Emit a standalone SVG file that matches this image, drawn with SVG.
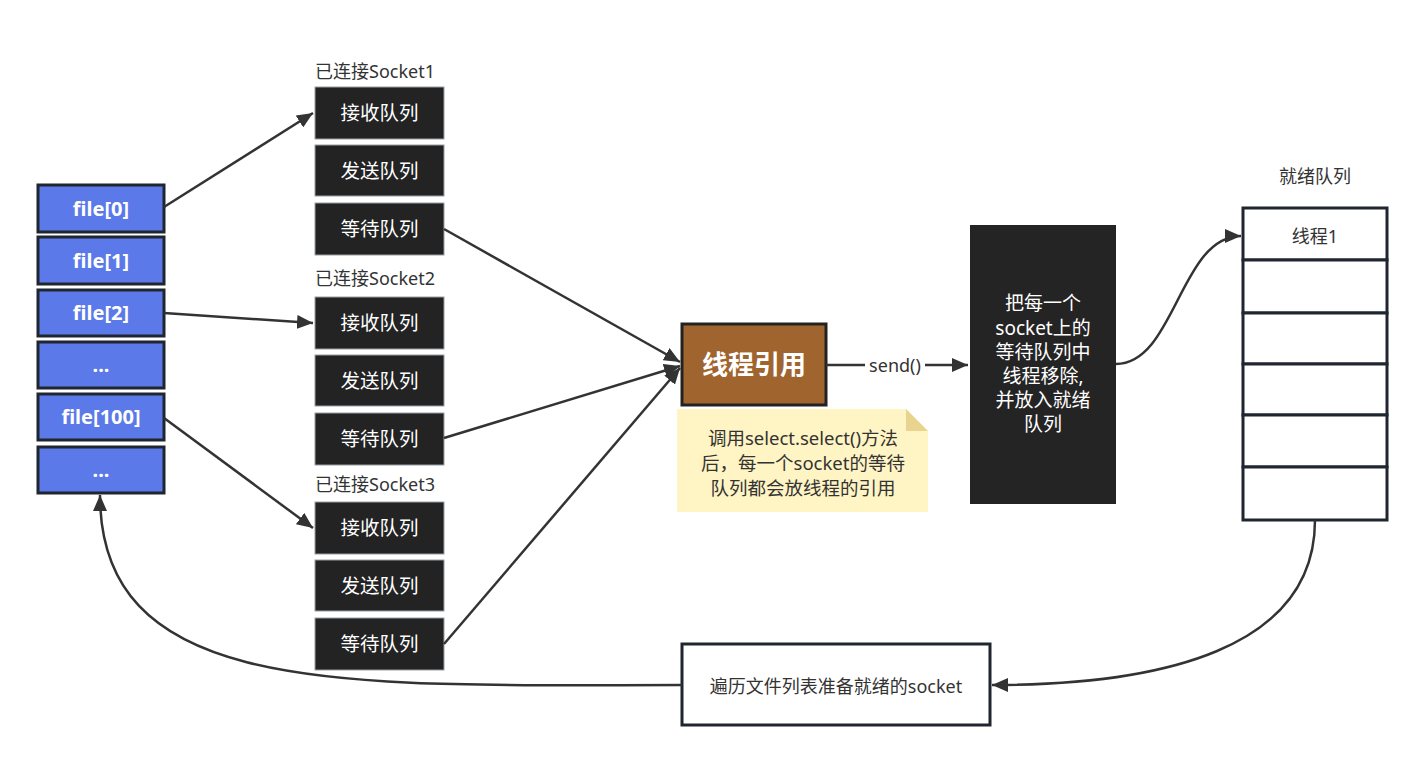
<svg xmlns="http://www.w3.org/2000/svg" width="1427" height="776" viewBox="0 0 1427 776">
<style>
text{font-family:"Noto Sans","Noto Sans CJK SC",sans-serif;}
.file rect{fill:#5b79e8;stroke:#1f2630;stroke-width:3;}
.file text{fill:#fff;font-size:20px;font-weight:bold;text-anchor:middle;}
.q rect{fill:#232323;stroke:#9aa0a6;stroke-width:1;}
.q text{fill:#fff;font-size:19.5px;text-anchor:middle;}
.lbl{fill:#333;font-size:18px;}
.edge{fill:none;stroke:#333;stroke-width:2.5;}
.dark{fill:#fff;font-size:19px;text-anchor:middle;}
.cell{fill:#fff;stroke:#1f2630;stroke-width:3;}
</style>
<defs>
<marker id="arr" markerUnits="userSpaceOnUse" markerWidth="18" markerHeight="14" refX="16" refY="7" orient="auto">
<path d="M0,0 L16,7 L0,14 Z" fill="#333"/>
</marker>
</defs>
<rect width="1427" height="776" fill="#fff"/>

<g id="files">
<g class="file" id="file0"><rect x="38" y="185" width="126" height="47"/><text x="101" y="216">file[0]</text></g>
<g class="file" id="file1"><rect x="38" y="237" width="126" height="47"/><text x="101" y="268">file[1]</text></g>
<g class="file" id="file2"><rect x="38" y="290" width="126" height="46"/><text x="101" y="320">file[2]</text></g>
<g class="file" id="fileDots1"><rect x="38" y="342" width="126" height="46"/><text x="101" y="372">...</text></g>
<g class="file" id="file100"><rect x="38" y="394" width="126" height="46"/><text x="101" y="424">file[100]</text></g>
<g class="file" id="fileDots2"><rect x="38" y="447" width="126" height="46"/><text x="101" y="477">...</text></g>
</g>

<g id="socket1">
<text class="lbl" x="315" y="78">已连接Socket1</text>
<g class="q"><rect x="315" y="87" width="129" height="52"/><text x="379.5" y="120">接收队列</text></g>
<g class="q"><rect x="315" y="145" width="129" height="51"/><text x="379.5" y="178">发送队列</text></g>
<g class="q"><rect x="315" y="203" width="129" height="52"/><text x="379.5" y="236">等待队列</text></g>
</g>
<g id="socket2">
<text class="lbl" x="315" y="285">已连接Socket2</text>
<g class="q"><rect x="315" y="297" width="129" height="52"/><text x="379.5" y="330">接收队列</text></g>
<g class="q"><rect x="315" y="355" width="129" height="51"/><text x="379.5" y="388">发送队列</text></g>
<g class="q"><rect x="315" y="413" width="129" height="52"/><text x="379.5" y="446">等待队列</text></g>
</g>
<g id="socket3">
<text class="lbl" x="315" y="491">已连接Socket3</text>
<g class="q"><rect x="315" y="502" width="129" height="52"/><text x="379.5" y="535">接收队列</text></g>
<g class="q"><rect x="315" y="560" width="129" height="51"/><text x="379.5" y="593">发送队列</text></g>
<g class="q"><rect x="315" y="618" width="129" height="52"/><text x="379.5" y="651">等待队列</text></g>
</g>

<g id="threadRef">
<rect x="682" y="324" width="144" height="81" fill="#a0642e" stroke="#222" stroke-width="3"/>
<text x="754" y="374" fill="#fff" font-size="26" font-weight="bold" text-anchor="middle">线程引用</text>
</g>

<g id="note">
<path d="M677,409 L906,409 L928,431 L928,512 L677,512 Z" fill="#fff4c3"/>
<path d="M906,409 L928,431 L906,431 Z" fill="#e8d48e"/>
<g font-size="18.5" fill="#333" text-anchor="middle">
<text x="803" y="445">调用select.select()方法</text>
<text x="803" y="470">后，每一个socket的等待</text>
<text x="803" y="495">队列都会放线程的引用</text>
</g>
</g>

<g id="moveBox">
<rect x="970" y="225" width="146" height="279" fill="#242424"/>
<text class="dark" x="1043" y="310">把每一个</text>
<text class="dark" x="1043" y="335">socket上的</text>
<text class="dark" x="1043" y="359">等待队列中</text>
<text class="dark" x="1043" y="383">线程移除,</text>
<text class="dark" x="1043" y="407">并放入就绪</text>
<text class="dark" x="1043" y="431">队列</text>
</g>

<g id="readyQueue">
<text class="lbl" x="1315" y="183" text-anchor="middle" font-size="19.5">就绪队列</text>
<rect class="cell" x="1243" y="208" width="144" height="52"/>
<rect class="cell" x="1243" y="260" width="144" height="53"/>
<rect class="cell" x="1243" y="313" width="144" height="51"/>
<rect class="cell" x="1243" y="364" width="144" height="51"/>
<rect class="cell" x="1243" y="415" width="144" height="52"/>
<rect class="cell" x="1243" y="467" width="144" height="53"/>
<text class="lbl" x="1315" y="243" text-anchor="middle" font-size="19">线程1</text>
</g>

<g id="traverse">
<rect x="682" y="644" width="308" height="81" fill="#fff" stroke="#1f2630" stroke-width="3"/>
<text class="lbl" x="836" y="693" text-anchor="middle" font-size="19.5">遍历文件列表准备就绪的socket</text>
</g>

<g id="connectors">
<path class="edge" d="M164,207 L313,113" marker-end="url(#arr)"/>
<path class="edge" d="M164,313 L313,323" marker-end="url(#arr)"/>
<path class="edge" d="M164,418 L313,528" marker-end="url(#arr)"/>
<path class="edge" d="M444,229 L680,362" marker-end="url(#arr)"/>
<path class="edge" d="M444,438 L680,366" marker-end="url(#arr)"/>
<path class="edge" d="M444,644 L680,368" marker-end="url(#arr)"/>
<path class="edge" d="M826,365 L865,365"/>
<path class="edge" d="M925,365 L968,365" marker-end="url(#arr)"/>
<text class="lbl" x="895" y="372" text-anchor="middle" font-size="19">send()</text>
<path class="edge" d="M1116,364 C1175,364 1180,236 1241,236" marker-end="url(#arr)"/>
<path class="edge" d="M1315,520 C1315,650 1160,685 992,685" marker-end="url(#arr)"/>
<path class="edge" d="M682,685 C350,685 100,700 100,495" marker-end="url(#arr)"/>
</g>
</svg>
